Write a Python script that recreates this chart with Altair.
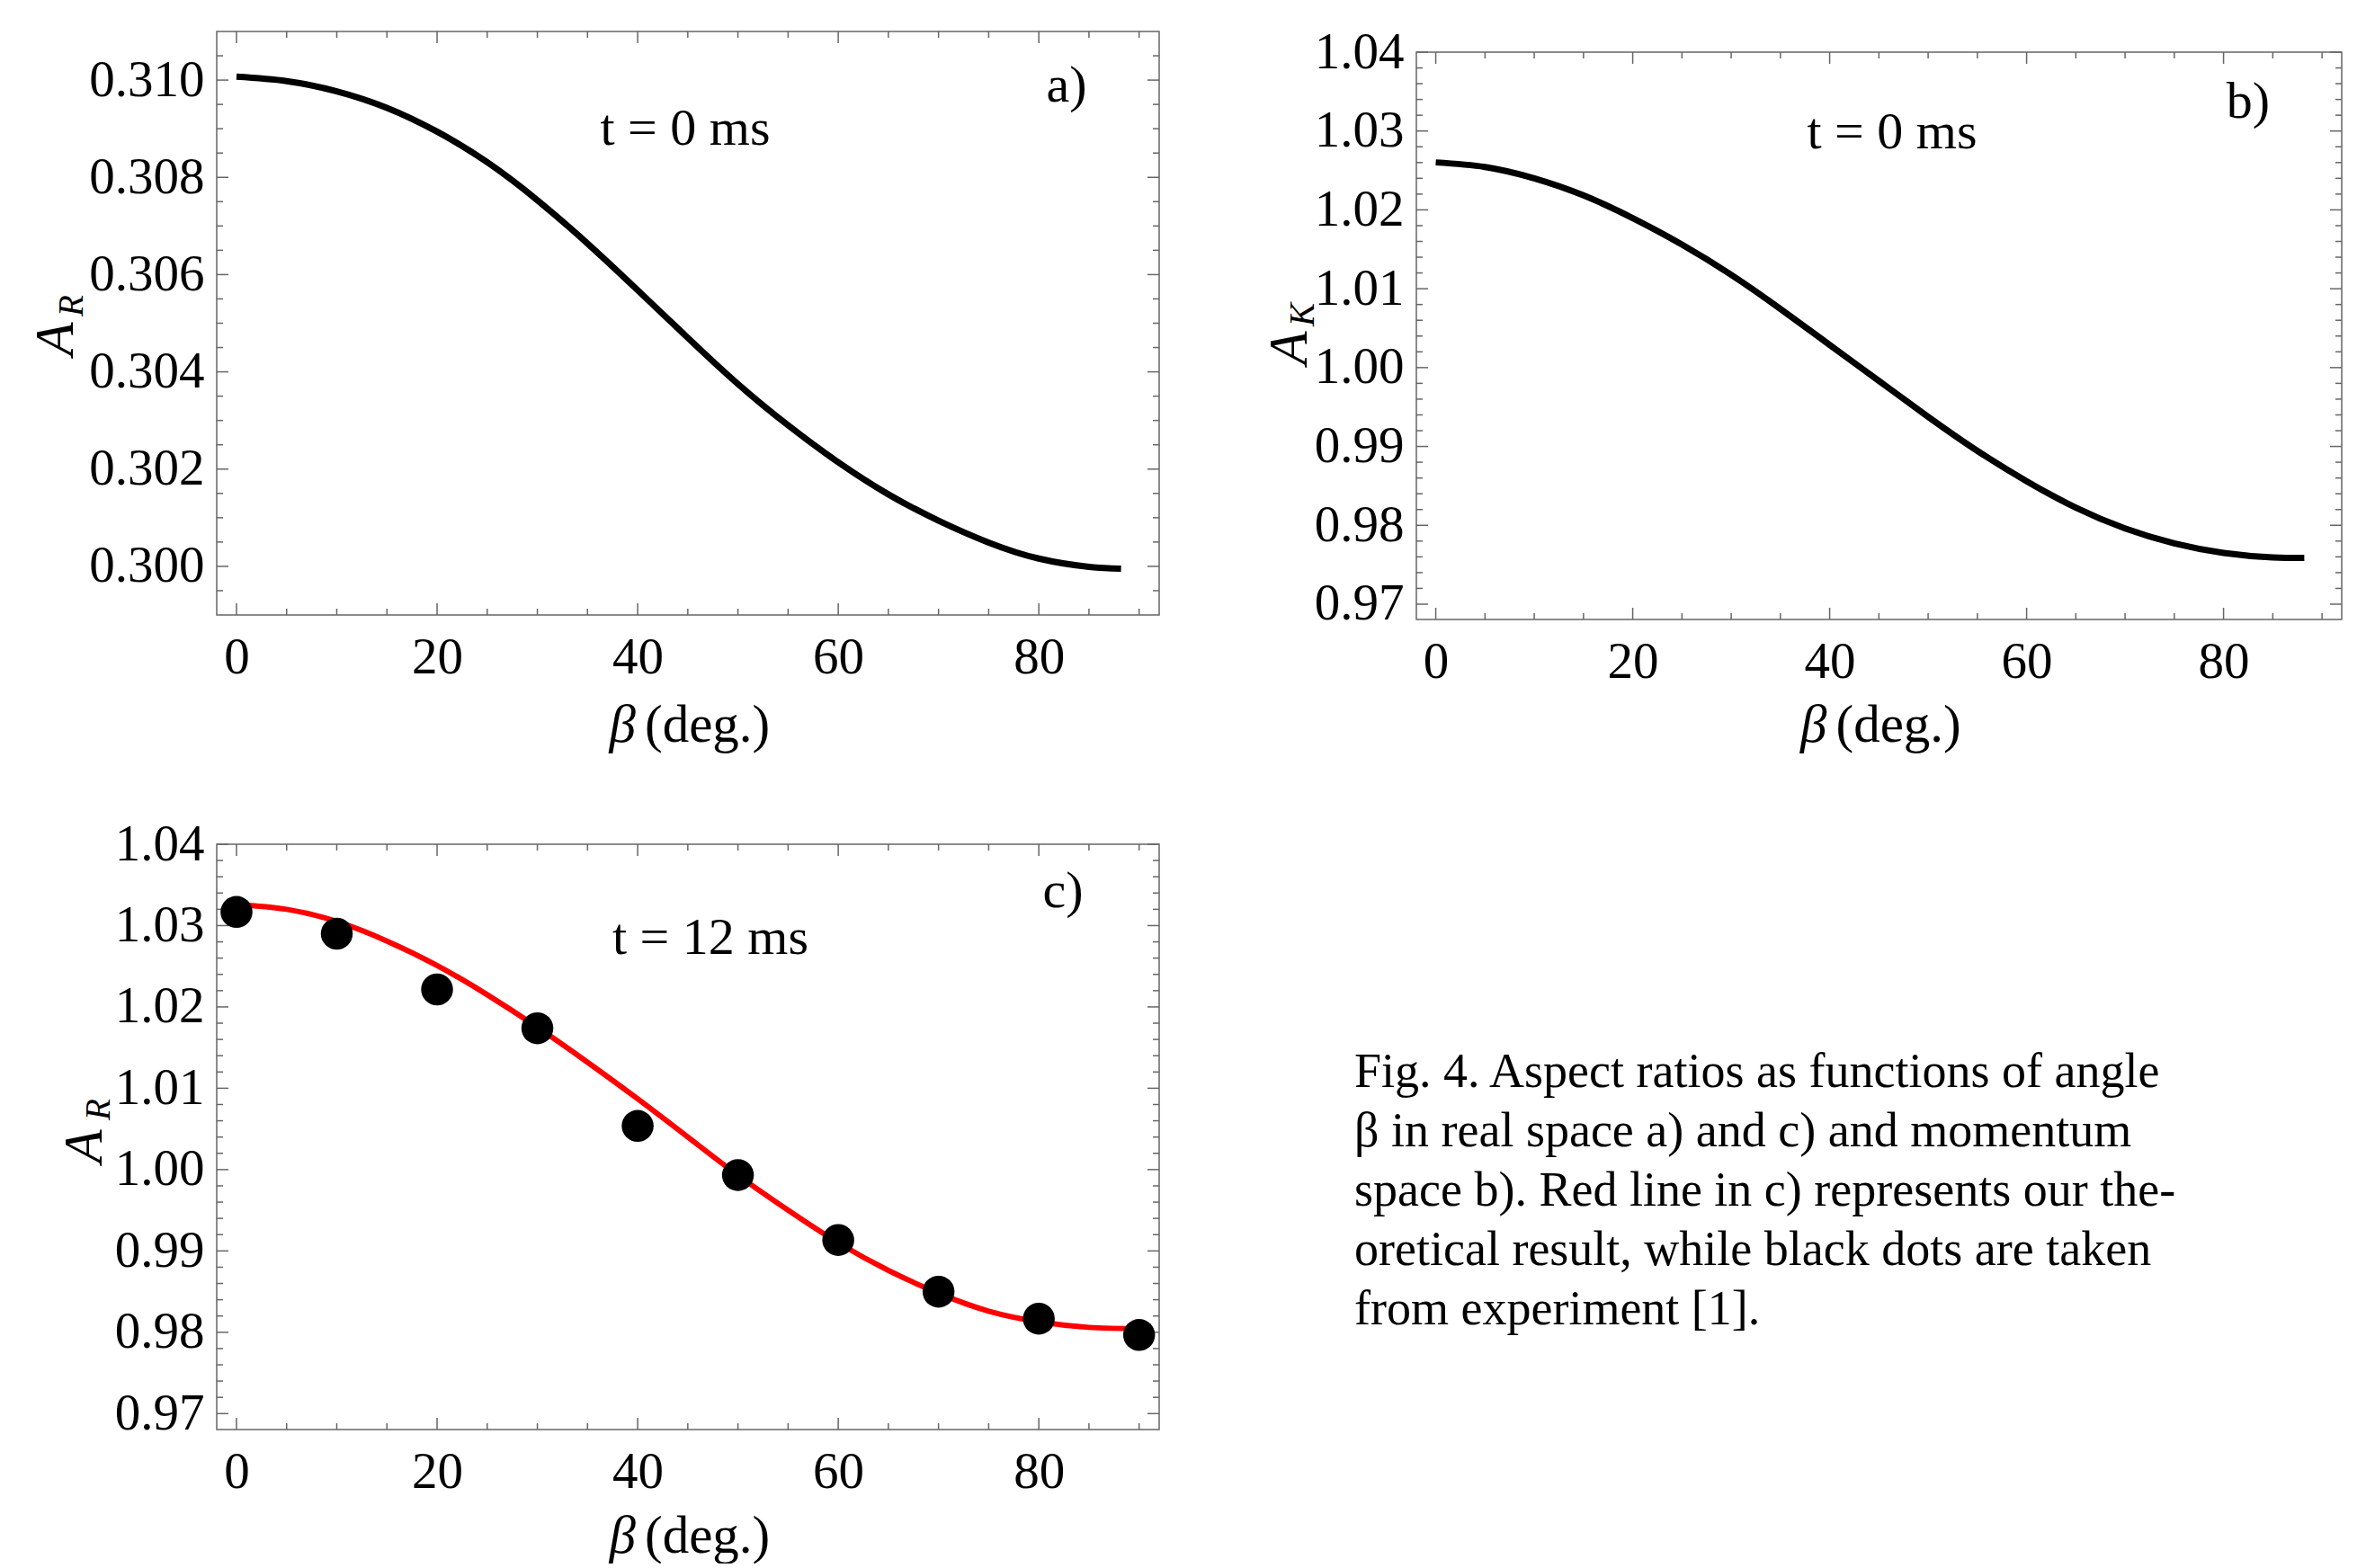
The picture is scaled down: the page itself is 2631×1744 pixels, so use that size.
import altair as alt
import pandas as pd

FONT = "Liberation Serif"
FRAME = "#666666"

# ---------------- data ----------------
beta_theory = [0, 5, 10, 15, 20, 25, 30, 35, 40, 45, 50, 55, 60, 65, 70, 75, 80, 85, 88.2]
ar_t0 = [0.31007, 0.30998, 0.30977, 0.30943, 0.30894, 0.30831, 0.30753, 0.30664, 0.30568,
         0.30470, 0.30375, 0.30290, 0.30214, 0.30148, 0.30094, 0.30049, 0.30016, 0.29999, 0.29995]
ak_t0 = [1.02602, 1.02544, 1.02400, 1.02184, 1.01896, 1.01560, 1.01177, 1.00744, 1.00288,
         0.99832, 0.99376, 0.98944, 0.98560, 0.98224, 0.97960, 0.97770, 0.97650, 0.97592, 0.97587]

beta_c = [0, 5, 10, 15, 20, 25, 30, 35, 40, 45, 50, 55, 60, 65, 70, 75, 80, 85, 90]
ar_t12_theory = [1.0326, 1.0320, 1.0305, 1.0281, 1.0251, 1.0215, 1.0175, 1.0132, 1.0087,
                 1.0040, 0.9993, 0.9950, 0.9910, 0.9876, 0.9848, 0.9826, 0.9813, 0.9806, 0.98045]

beta_exp = [0, 10, 20, 30, 40, 50, 60, 70, 80, 90]
ar_t12_exp = [1.03167, 1.02900, 1.02215, 1.01738, 1.00537, 0.99933, 0.99134, 0.98499, 0.98167, 0.97967]

# tick positions
x_major = [0, 20, 40, 60, 80]
x_minor = [5, 10, 15, 25, 30, 35, 45, 50, 55, 65, 70, 75, 85, 90]
ya_major = [0.300, 0.302, 0.304, 0.306, 0.308, 0.310]
ya_minor = [0.2995, 0.3005, 0.3010, 0.3015, 0.3025, 0.3030, 0.3035, 0.3045, 0.3050, 0.3055,
            0.3065, 0.3070, 0.3075, 0.3085, 0.3090, 0.3095, 0.3105]
yk_major = [0.97, 0.98, 0.99, 1.00, 1.01, 1.02, 1.03, 1.04]
yk_minor = [0.972, 0.974, 0.976, 0.978, 0.982, 0.984, 0.986, 0.988, 0.992, 0.994, 0.996, 0.998,
            1.002, 1.004, 1.006, 1.008, 1.012, 1.014, 1.016, 1.018, 1.022, 1.024, 1.026, 1.028,
            1.032, 1.034, 1.036, 1.038]

caption_lines = [
    "Fig. 4. Aspect ratios as functions of angle",
    "\u03b2 in real space a) and c) and momentum",
    "space b). Red line in c) represents our the-",
    "oretical result, while black dots are taken",
    "from experiment [1].",
]

X_DOMAIN = [-1.97, 92.0]
LABEL_SIZE = 57


def dummy():
    return pd.DataFrame({"k": [0]})


def text_layer(txt, x, y, size=58, style="normal", angle=0, align="center", baseline="middle"):
    mk = dict(text=txt, font=FONT, fontSize=size, fontStyle=style, align=align,
              baseline=baseline, color="black")
    if angle:
        mk["angle"] = angle
    return alt.Chart(dummy()).mark_text(**mk).encode(x=alt.value(x), y=alt.value(y))


def panel(W, Hv, top, ydom, ymaj, ymin, yfmt, data_layers, texts):
    xs = alt.Scale(domain=X_DOMAIN, nice=False, zero=False)
    ys = alt.Scale(domain=ydom, range=[Hv, top], nice=False, zero=False)
    xaxis = alt.Axis(values=x_major, title=None, labelFont=FONT, labelFontSize=LABEL_SIZE,
                     labelColor="black", labelPadding=19, ticks=False, tickSize=0,
                     domain=False, grid=False, labelFlush=False)
    yaxis = alt.Axis(values=ymaj, format=yfmt, title=None, labelFont=FONT, labelFontSize=LABEL_SIZE,
                     labelColor="black", labelPadding=14, ticks=False, tickSize=0,
                     domain=False, grid=False)
    L = []
    # data layers share the axes with the decoration layers
    for df, mark in data_layers:
        L.append(mark(alt.Chart(df)).encode(
            x=alt.X("beta:Q", scale=xs, axis=xaxis), y=alt.Y("A:Q", scale=ys, axis=yaxis)))
    deco = []
    deco.append(alt.Chart(dummy()).mark_rect(filled=False, stroke=FRAME, strokeWidth=1.5).encode(
        x=alt.value(0), x2=alt.value(W), y=alt.value(top), y2=alt.value(Hv)))
    for vals, ln in ((x_major, 13), (x_minor, 7)):
        base = alt.Chart(pd.DataFrame({"v": vals})).mark_rule(color=FRAME, strokeWidth=1.5)
        deco.append(base.encode(x=alt.X("v:Q", scale=xs, axis=xaxis), y=alt.value(Hv), y2=alt.value(Hv - ln)))
        deco.append(base.encode(x=alt.X("v:Q", scale=xs, axis=xaxis), y=alt.value(top), y2=alt.value(top + ln)))
    for vals, ln in ((ymaj, 13), (ymin, 7)):
        base = alt.Chart(pd.DataFrame({"v": vals})).mark_rule(color=FRAME, strokeWidth=1.5)
        deco.append(base.encode(y=alt.Y("v:Q", scale=ys, axis=yaxis), x=alt.value(0), x2=alt.value(ln)))
        deco.append(base.encode(y=alt.Y("v:Q", scale=ys, axis=yaxis), x=alt.value(W), x2=alt.value(W - ln)))
    return alt.layer(*(deco + L + texts)).properties(width=W, height=Hv)


def xtitle(W, y):
    return [text_layer("\u03b2", W / 2 - 58, y, size=59, style="italic", align="right", baseline="alphabetic"),
            text_layer("(deg.)", W / 2 - 48, y, size=59, align="left", baseline="alphabetic")]


# ---------------- panel a ----------------
Wa, Ha = 1048, 649
df_a = pd.DataFrame({"beta": beta_theory, "A": ar_t0})
pa = panel(
    Wa, Ha, 0, [0.299, 0.311], ya_major, ya_minor, ".3f",
    [(df_a, lambda c: c.mark_line(color="black", strokeWidth=7, interpolate="natural"))],
    [text_layer("a)", 945, 61), text_layer("t = 0 ms", 521, 108.5),
     text_layer("A", -178, 342, size=61, style="italic", angle=270),
     text_layer("R", -161, 305, size=39, style="italic", angle=270)] + xtitle(Wa, 790),
)

# ---------------- panel b ----------------
Wb, Hb, Tb = 1029, 654, 23
df_b = pd.DataFrame({"beta": beta_theory, "A": ak_t0})
pb = panel(
    Wb, Hb, Tb, [0.96806, 1.04], yk_major, yk_minor, ".2f",
    [(df_b, lambda c: c.mark_line(color="black", strokeWidth=7, interpolate="natural"))],
    [text_layer("b)", 925, 78.5), text_layer("t = 0 ms", 529, 113),
     text_layer("A", -140, 352, size=61, style="italic", angle=270),
     text_layer("K", -126, 315, size=39, style="italic", angle=270)] + xtitle(Wb, 790),
)

# ---------------- panel c ----------------
Wc, Hc = 1048, 651
df_c_line = pd.DataFrame({"beta": beta_c, "A": ar_t12_theory})
df_c_dots = pd.DataFrame({"beta": beta_exp, "A": ar_t12_exp})
pc = panel(
    Wc, Hc, 0, [0.96804, 1.04], yk_major, yk_minor, ".2f",
    [(df_c_line, lambda c: c.mark_line(color="#ff0000", strokeWidth=6, interpolate="natural")),
     (df_c_dots, lambda c: c.mark_circle(color="black", size=1260, opacity=1))],
    [text_layer("c)", 941, 53), text_layer("t = 12 ms", 549, 105),
     text_layer("A", -146, 336, size=61, style="italic", angle=270),
     text_layer("R", -131, 295, size=39, style="italic", angle=270)] + xtitle(Wc, 788),
)

# ---------------- caption ----------------
cap_layers = [text_layer(t, -69, 270 + 66 * i, size=54, align="left", baseline="alphabetic")
              for i, t in enumerate(caption_lines)]
cap = alt.layer(*cap_layers).properties(width=Wb, height=Hc)

chart = alt.concat(
    pa, pb, pc, cap, columns=2, spacing={"row": 250, "column": 286}, bounds="flush", align="each"
).properties(
    padding={"left": 24, "top": 21, "right": 5, "bottom": 0}
).configure_view(strokeWidth=0)

chart.save("out.html", embed_options={"renderer": "svg", "actions": False})
